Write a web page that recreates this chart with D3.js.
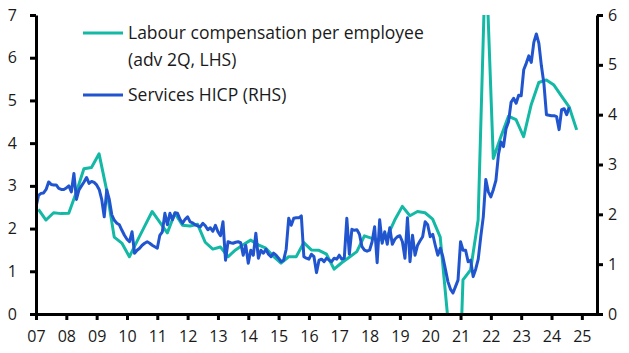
<!DOCTYPE html>
<html>
<head>
<meta charset="utf-8">
<script src="https://d3js.org/d3.v7.min.js"></script>
<style>
  body { margin: 0; background: #fff; }
  svg text { font-family: "Open Sans", sans-serif; fill: #1a1a1a; }
</style>
</head>
<body>
<script>
// labour compensation per employee, % y/y, quarterly, advanced 2Q (left axis)
const labourStart = 2007.08;
const labourComp = [
  2.45, 2.2, 2.37, 2.35, 2.36, 2.85, 3.4, 3.43,
  3.75, 2.9, 1.8, 1.66, 1.34, 1.7, 2.05, 2.4,
  2.15, 1.9, 2.36, 2.08, 2.06, 2.1, 1.68, 1.52,
  1.57, 1.34, 1.5, 1.62, 1.73, 1.62, 1.54, 1.35,
  1.19, 1.34, 1.34, 1.67, 1.5, 1.49, 1.4, 1.05,
  1.2, 1.33, 1.46, 1.83, 1.77, 1.73, 1.81, 2.2,
  2.52, 2.3, 2.4, 2.37, 2.22, 1.8, -0.1, -4.5,
  0.8, 1.03, 2.2, 8.5, 3.64, 4.15, 4.63, 4.55,
  4.15, 4.9, 5.42, 5.48, 5.36, 5.1, 4.85, 4.31
];

// services HICP, % y/y, monthly from Jan 2007 (right axis)
const servicesStart = 2007;
const servicesHicp = [
  2.15, 2.38, 2.42, 2.43, 2.5, 2.65, 2.6, 2.59, 2.59, 2.52, 2.5, 2.5,
  2.53, 2.57, 2.45, 2.82, 2.3, 2.49, 2.57, 2.65, 2.74, 2.62, 2.66, 2.64,
  2.59, 2.5, 2.3, 1.95, 2.49, 2.3, 1.99, 1.88, 1.82, 1.79, 1.68, 1.58,
  1.5, 1.45, 1.65, 1.22, 1.28, 1.32, 1.38, 1.42, 1.45, 1.42, 1.38, 1.35,
  1.32, 1.58, 1.65, 2.02, 1.79, 2.02, 1.89, 2.03, 2.02, 1.9, 1.82, 1.9,
  1.95, 1.85, 1.83, 1.79, 1.77, 1.75, 1.82, 1.77, 1.69, 1.73, 1.66, 1.78,
  1.65, 1.57, 1.85, 1.08, 1.45, 1.43, 1.42, 1.44, 1.45, 1.43, 1.18, 1.38,
  1.02, 1.28, 1.18, 1.62, 1.12, 1.28, 1.22, 1.3, 1.2, 1.15, 1.22, 1.18,
  1.12, 1.05, 1.08, 1.3, 1.92, 1.78, 1.92, 1.93, 1.93, 1.97, 1.15, 1.12,
  1.1, 1.2, 1.15, 0.83, 1.08, 1.1, 1.05, 1.12, 1.08, 1.05, 1.12, 1.1,
  1.18, 1.1, 1.12, 1.92, 1.2, 1.7, 1.68, 1.69, 1.6, 1.35, 1.28, 1.26,
  1.28, 1.45, 1.75, 1.03, 1.89, 1.42, 1.65, 1.4, 1.73, 1.4, 1.5, 1.55,
  1.57, 1.45, 1.12, 1.93, 1.05, 1.58, 1.18, 1.38, 1.47, 1.55, 1.85, 1.79,
  1.55, 1.6, 1.38, 1.18, 1.32, 1.15, 0.9, 0.65, 0.5, 0.42, 0.55, 0.68,
  1.45, 1.28, 1.28, 1.05, 1.08, 0.75, 0.9, 1.1, 1.55, 1.95, 2.7, 2.45,
  2.35, 2.5, 2.68, 3.2, 3.45, 3.36, 3.72, 3.86, 4.25, 4.33, 4.23, 4.39,
  4.38, 4.9, 5.03, 5.18, 5.05, 5.45, 5.62, 5.43, 4.98, 4.62, 4.0, 3.99,
  3.98, 3.98, 3.96, 3.7, 4.1, 4.12, 4.0, 4.15
];

const xTicks = d3.range(2007, 2026);
const leftTicks = [0, 1, 2, 3, 4, 5, 6, 7];
const rightTicks = [0, 1, 2, 3, 4, 5, 6];

const legendItems = [
  {lines: ["Labour compensation per employee", "(adv 2Q, LHS)"], color: "#13b9a5"},
  {lines: ["Services HICP (RHS)"], color: "#2155cf"}
];

const width = 629, height = 353;
const plot = {left: 36, right: 597, top: 15, bottom: 314};

const svg = d3.select("body").append("svg")
  .attr("width", width)
  .attr("height", height);

const x = d3.scaleLinear().domain([2007, 2025.5]).range([plot.left, plot.right]);
const yL = d3.scaleLinear().domain([0, 7]).range([plot.bottom, plot.top]);
const yR = d3.scaleLinear().domain([0, 6]).range([plot.bottom, plot.top]);

svg.append("clipPath").attr("id", "clip")
  .append("rect")
  .attr("x", plot.left).attr("y", plot.top)
  .attr("width", plot.right - plot.left)
  .attr("height", plot.bottom - plot.top);

const labourData = labourComp.map((v, i) => ({t: labourStart + i * 0.25, v}));
const servicesData = servicesHicp.map((v, i) => ({t: servicesStart + i / 12, v}));

const lines = svg.append("g").attr("clip-path", "url(#clip)");

lines.append("path")
  .datum(labourData)
  .attr("fill", "none")
  .attr("stroke", legendItems[0].color)
  .attr("stroke-width", 3)
  .attr("stroke-linejoin", "round")
  .attr("d", d3.line().x(d => x(d.t)).y(d => yL(d.v)));

lines.append("path")
  .datum(servicesData)
  .attr("fill", "none")
  .attr("stroke", legendItems[1].color)
  .attr("stroke-width", 3)
  .attr("stroke-linejoin", "round")
  .attr("d", d3.line().x(d => x(d.t)).y(d => yR(d.v)));

// axes
function styleAxis(g) {
  g.select(".domain").attr("stroke", "#000").attr("stroke-width", 3);
  g.selectAll(".tick line").attr("stroke", "#000").attr("stroke-width", 3);
  g.selectAll(".tick text").attr("font-size", 16).attr("fill", "#1a1a1a");
}

svg.append("g")
  .attr("transform", `translate(0,${plot.bottom})`)
  .call(d3.axisBottom(x).tickValues(xTicks)
    .tickFormat(d => String(d % 100).padStart(2, "0"))
    .tickSize(6).tickSizeOuter(0).tickPadding(11))
  .call(styleAxis);

svg.append("g")
  .attr("transform", `translate(${plot.left},0)`)
  .call(d3.axisLeft(yL).tickValues(leftTicks).tickFormat(d3.format("d"))
    .tickSize(6).tickSizeOuter(0).tickPadding(13))
  .call(styleAxis);

svg.append("g")
  .attr("transform", `translate(${plot.right},0)`)
  .call(d3.axisRight(yR).tickValues(rightTicks).tickFormat(d3.format("d"))
    .tickSize(6).tickSizeOuter(0).tickPadding(5))
  .call(styleAxis);

// legend
const legend = svg.append("g");
const rowY = [33, 95];
legendItems.forEach((item, i) => {
  legend.append("line")
    .attr("x1", 83).attr("x2", 123)
    .attr("y1", rowY[i]).attr("y2", rowY[i])
    .attr("stroke", item.color).attr("stroke-width", 3);
  item.lines.forEach((ln, j) => {
    legend.append("text")
      .attr("x", 128).attr("y", rowY[i] + 6 + j * 27)
      .attr("font-size", 17.5)
      .text(ln);
  });
});
</script>
</body>
</html>
